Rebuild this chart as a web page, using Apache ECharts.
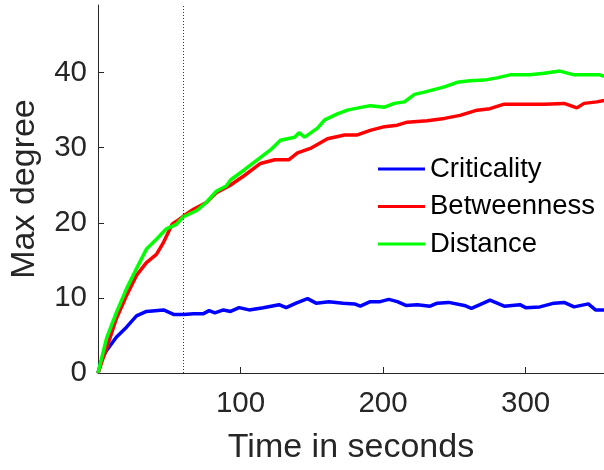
<!DOCTYPE html>
<html>
<head>
<meta charset="utf-8">
<script src="https://cdn.jsdelivr.net/npm/echarts@6/dist/echarts.min.js"></script>
<style>
  html, body { margin: 0; padding: 0; background: #fff; }
  #chart { width: 604px; height: 470px; }
</style>
</head>
<body>
<div id="chart"></div>
<script>
// Max degree over time for three node-selection strategies
const critT = [0, 3, 6, 13, 20, 27, 34, 40, 46, 53, 60, 67, 74, 78, 82, 88, 93, 99, 106, 116, 127, 132, 139, 147, 153, 162, 172, 180, 184, 191, 198, 204, 210, 216, 224, 233, 238, 246, 257, 262, 268, 275, 285, 296, 300, 310, 320, 327, 334, 344, 349, 355];
const critV = [0, 2.0, 3.0, 4.8, 6.1, 7.6, 8.2, 8.3, 8.4, 7.8, 7.8, 7.9, 7.9, 8.3, 8.0, 8.4, 8.2, 8.7, 8.4, 8.7, 9.1, 8.7, 9.3, 9.9, 9.3, 9.5, 9.3, 9.2, 8.9, 9.5, 9.5, 9.8, 9.5, 9.0, 9.1, 8.9, 9.3, 9.4, 9.0, 8.6, 9.1, 9.7, 8.9, 9.1, 8.7, 8.8, 9.3, 9.4, 8.8, 9.2, 8.4, 8.4];

const betwT = [0, 6, 13, 20, 27, 34, 41, 46, 52, 55, 60, 67, 76, 83, 92, 102, 114, 124, 134, 140, 149, 161, 173, 182, 191, 201, 210, 217, 231, 243, 254, 266, 275, 285, 299, 313, 327, 336, 341, 350, 355];
const betwV = [0, 3.3, 7.3, 10.3, 13.0, 14.7, 15.8, 17.4, 19.8, 20.2, 20.9, 21.8, 22.7, 24.0, 24.9, 26.2, 27.9, 28.4, 28.4, 29.3, 29.9, 31.2, 31.7, 31.7, 32.3, 32.8, 33.0, 33.4, 33.6, 33.9, 34.3, 35.0, 35.2, 35.8, 35.8, 35.8, 35.9, 35.3, 35.9, 36.1, 36.3];

const distT = [0, 6, 13, 20, 27, 34, 41, 48, 55, 60, 69, 76, 83, 90, 93, 103, 112, 121, 128, 138, 141, 145, 154, 159, 168, 175, 180, 191, 201, 208, 215, 222, 229, 243, 252, 261, 271, 280, 289, 303, 313, 324, 334, 345, 352, 355];
const distV = [0, 4.6, 8.1, 11.2, 13.9, 16.5, 17.8, 19.2, 19.8, 20.8, 21.6, 22.7, 24.2, 24.9, 25.7, 27.1, 28.4, 29.7, 31.0, 31.4, 32.0, 31.4, 32.6, 33.7, 34.5, 35.0, 35.2, 35.6, 35.4, 35.9, 36.1, 37.1, 37.4, 38.1, 38.7, 38.9, 39.0, 39.3, 39.7, 39.7, 39.9, 40.2, 39.7, 39.7, 39.7, 39.5];

const seriesNames = ['Criticality', 'Betweenness', 'Distance'];
const xTicks = [100, 200, 300];
const yTicks = [0, 10, 20, 30, 40];
const markerTime = 60;

const pairs = (t, v) => t.map((x, i) => [x, v[i]]);

const FONT = '"Liberation Sans", Arial, Helvetica, sans-serif';
const AXIS_COLOR = '#262626';

const chart = echarts.init(document.getElementById('chart'), null, { renderer: 'canvas' });

chart.setOption({
  animation: false,
  backgroundColor: '#ffffff',
  grid: { left: 97, right: 0, top: 5, bottom: 95, containLabel: false },
  legend: {
    orient: 'vertical',
    left: 378,
    top: 155,
    icon: 'rect',
    itemWidth: 47,
    itemHeight: 3,
    itemGap: 9.5,
    data: seriesNames,
    textStyle: { fontFamily: FONT, fontSize: 27.5, color: '#000', lineHeight: 28, padding: [0, 0, 0, 0] },
    padding: 0
  },
  xAxis: {
    type: 'value',
    min: 0,
    max: 355,
    interval: 100,
    name: 'Time in seconds',
    nameLocation: 'middle',
    nameGap: 58,
    nameTextStyle: { fontFamily: FONT, fontSize: 34, color: AXIS_COLOR },
    axisLine: { show: true, onZero: false, lineStyle: { color: AXIS_COLOR, width: 1 } },
    axisTick: { show: true, inside: true, length: 6, customValues: xTicks, lineStyle: { color: AXIS_COLOR } },
    axisLabel: { customValues: xTicks, fontFamily: FONT, fontSize: 29.5, color: AXIS_COLOR, margin: 16 },
    splitLine: { show: false }
  },
  yAxis: {
    type: 'value',
    min: 0,
    max: 49,
    interval: 10,
    name: 'Max degree',
    nameLocation: 'middle',
    nameGap: 56,
    nameTextStyle: { fontFamily: FONT, fontSize: 34, color: AXIS_COLOR },
    axisLine: { show: true, lineStyle: { color: AXIS_COLOR, width: 1 } },
    axisTick: { show: true, inside: true, length: 6, customValues: yTicks, lineStyle: { color: AXIS_COLOR } },
    axisLabel: { customValues: yTicks, fontFamily: FONT, fontSize: 29.5, color: AXIS_COLOR, margin: 11 },
    splitLine: { show: false }
  },
  series: [
    {
      name: seriesNames[0],
      type: 'line',
      data: pairs(critT, critV),
      symbol: 'none',
      color: '#0000ff',
      lineStyle: { width: 3.5, color: '#0000ff' },
      markLine: {
        silent: true,
        symbol: ['none', 'none'],
        label: { show: false },
        lineStyle: { type: [1, 2], color: '#333', width: 1 },
        data: [{ xAxis: markerTime }]
      }
    },
    {
      name: seriesNames[1],
      type: 'line',
      data: pairs(betwT, betwV),
      symbol: 'none',
      color: '#ff0000',
      lineStyle: { width: 3.5, color: '#ff0000' }
    },
    {
      name: seriesNames[2],
      type: 'line',
      data: pairs(distT, distV),
      symbol: 'none',
      color: '#00ff00',
      lineStyle: { width: 3.5, color: '#00ff00' }
    }
  ]
});
</script>
</body>
</html>
